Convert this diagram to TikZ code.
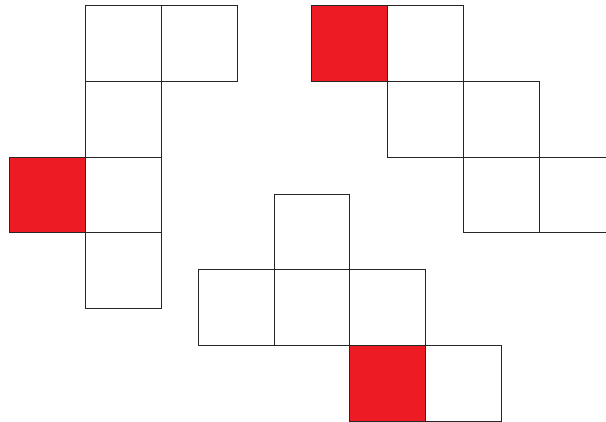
\documentclass[tikz,border=0pt]{standalone}
\usepackage{tikz}
\usepackage{xcolor}
\definecolor{cred}{RGB}{237,28,36}

\begin{document}
\begin{tikzpicture}[x=1pt,y=-1pt,
  cell/.style={draw=black!85,line width=0.9pt,minimum size=75.75pt,
               inner sep=0pt,anchor=north west},
  face/.style={cell,fill=cred}
]
\useasboundingbox (0,0) rectangle (606,421);
\clip (0,0) rectangle (606,421);
% left net
\node[cell] (l1) at (85,5)    {};
\node[cell] (l2) at (160.75,5) {};
\node[cell] (l3) at (85,80.75) {};
\node[face] (l4) at (9.25,156.5) {};
\node[cell] (l5) at (85,156.5) {};
\node[cell] (l6) at (85,232.25) {};
% top right net
\node[face] (r1) at (311.25,5) {};
\node[cell] (r2) at (387,5) {};
\node[cell] (r3) at (387,80.75) {};
\node[cell] (r4) at (462.75,80.75) {};
\node[cell] (r5) at (462.75,156.5) {};
\node[cell] (r6) at (538.5,156.5) {};
% bottom net
\node[cell] (b1) at (273.5,193.5) {};
\node[cell] (b2) at (197.75,269.25) {};
\node[cell] (b3) at (273.5,269.25) {};
\node[cell] (b4) at (349.25,269.25) {};
\node[face] (b5) at (349.25,345) {};
\node[cell] (b6) at (425,345) {};
\end{tikzpicture}
\end{document}
